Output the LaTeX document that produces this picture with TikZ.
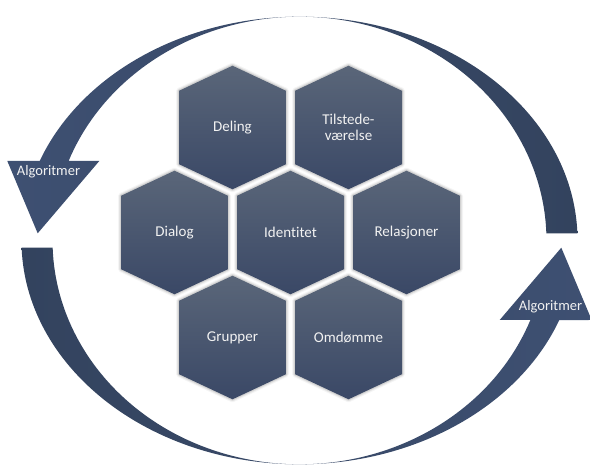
\documentclass[tikz,border=0pt]{standalone}
\usepackage{fontspec}
\setmainfont{Carlito}[Ligatures=NoCommon]
\definecolor{hextop}{HTML}{5A6679}
\definecolor{hexbot}{HTML}{3A4866}
\definecolor{arrlight}{HTML}{3E5072}
\definecolor{arrdark}{HTML}{33435E}
\definecolor{txt}{HTML}{F2F2F2}
\tikzset{
  hexlabel/.style={text=txt, font=\fontsize{15}{16.5}\selectfont, align=center, inner sep=0pt},
  arrlabel/.style={text=txt, font=\fontsize{14.5}{16}\selectfont, inner sep=0pt},
  hexfill/.style={top color=hextop, bottom color=hexbot, draw=none},
  hexglow/.style={draw=black, draw opacity=#1, line join=round},
}
\begin{document}
\begin{tikzpicture}[x=1pt,y=1pt]
\fill[white] (0,0) rectangle (590,464);
\useasboundingbox (0,0) rectangle (590,464);
% upper circular arrow (head at left)
\path[left color=arrlight, right color=arrdark]
  (577.4,230.7) arc[start angle=1.84, end angle=159.19, x radius=278, y radius=223.8]
  -- (7.3,303) -- (37.7,230.7) -- (99.3,303) -- (68.6,303)
  arc[start angle=159.19, end angle=1.84, x radius=247, y radius=223.8] -- cycle;
% lower circular arrow (head at right)
\path[left color=arrdark, right color=arrlight]
  (21.6,216.3) arc[start angle=181.84, end angle=339.19, x radius=278, y radius=223.8]
  -- (591.7,144) -- (561.3,216.3) -- (499.7,144) -- (530.4,144)
  arc[start angle=339.19, end angle=181.84, x radius=247, y radius=223.8] -- cycle;
\node[arrlabel] (alg1) at (48.5,292.5) {Algoritmer};
\node[arrlabel] (alg2) at (550.5,157) {Algoritmer};
% hexagons
\foreach \cx/\cy/\nm/\txt in {232.5/336.5/deling/Deling,
    348.5/336.5/tilstede/{Tilstede-\\værelse},
    174.5/231.5/dialog/Dialog,
    290.5/231.5/identitet/Identitet,
    406.5/231.5/relasjoner/Relasjoner,
    232.5/126.5/grupper/Grupper,
    348.5/126.5/omdomme/Omdømme}{
  \foreach \w/\o in {6/0.04,4/0.06,2.2/0.09}{
    \draw[hexglow=\o, line width=\w pt]
      (\cx,\cy+61.8) -- (\cx+53.5,\cy+36.7) -- (\cx+53.5,\cy-36.7) -- (\cx,\cy-61.8)
      -- (\cx-53.5,\cy-36.7) -- (\cx-53.5,\cy+36.7) -- cycle;
  }
  \path[hexfill]
    (\cx,\cy+61.8) -- (\cx+53.5,\cy+36.7) -- (\cx+53.5,\cy-36.7) -- (\cx,\cy-61.8)
    -- (\cx-53.5,\cy-36.7) -- (\cx-53.5,\cy+36.7) -- cycle;
  \node[hexlabel] (\nm) at (\cx,\cy) {\txt};
}
\end{tikzpicture}
\end{document}
